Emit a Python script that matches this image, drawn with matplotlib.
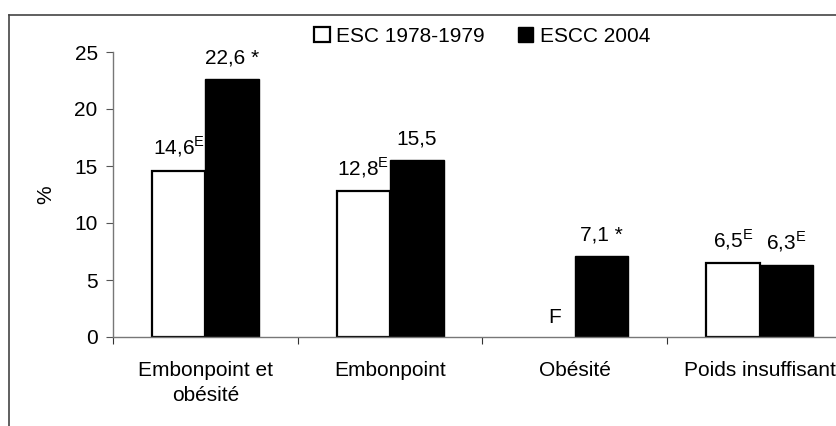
import matplotlib
matplotlib.use("Agg")
import matplotlib.pyplot as plt
from matplotlib.lines import Line2D
from matplotlib.patches import Patch

plt.rcParams['font.family'] = ['Liberation Sans', 'DejaVu Sans']
plt.rcParams['mathtext.fontset'] = 'custom'
plt.rcParams['mathtext.rm'] = 'Liberation Sans'

categories = ["Embonpoint et\nobésité", "Embonpoint", "Obésité", "Poids insuffisant"]
series_names = ["ESC 1978-1979", "ESCC 2004"]
esc_1978 = [14.6, 12.8, 0.0, 6.5]
escc_2004 = [22.6, 15.5, 7.1, 6.3]
esc_labels = ["14,6$^{\\mathrm{E}}$", "12,8$^{\\mathrm{E}}$", "F", "6,5$^{\\mathrm{E}}$"]
escc_labels = ["22,6 *", "15,5", "7,1 *", "6,3$^{\\mathrm{E}}$"]
yticks = [0, 5, 10, 15, 20, 25]

FS = 15
W, H = 837, 426
fig = plt.figure(figsize=(W / 100, H / 100), dpi=100)
ax = fig.add_axes([113 / W, (H - 337) / H, (852 - 113) / W, (337 - 52) / H])

bw = 0.29
n = len(categories)
centers = [i + 0.5 for i in range(n)]
ax.bar([c - bw / 2 for c in centers], esc_1978, width=bw, color='white',
       edgecolor=['black' if v > 0 else 'none' for v in esc_1978],
       linewidth=1.6, label=series_names[0], zorder=2)
ax.bar([c + bw / 2 for c in centers], escc_2004, width=bw, color='black',
       edgecolor='black', linewidth=1.0, label=series_names[1], zorder=2)

for c, v, lab in zip(centers, esc_1978, esc_labels):
    if lab == "F":
        ax.text(c - bw / 2 + 0.035, 0.9, lab, ha='center', va='bottom', fontsize=FS)
    else:
        ax.text(c - bw / 2, v + 1.0, lab, ha='center', va='bottom', fontsize=FS)
for c, v, lab in zip(centers, escc_2004, escc_labels):
    ax.text(c + bw / 2, v + 1.0, lab, ha='center', va='bottom', fontsize=FS)

ax.set_xlim(0, n)
ax.set_ylim(0, 25)
ax.set_yticks(yticks)
ax.set_yticklabels([str(t) for t in yticks], fontsize=FS)
ax.set_xticks(range(n + 1))
ax.set_xticklabels([])
ax.set_xticks(centers, minor=True)
ax.set_xticklabels(categories, minor=True, fontsize=FS, linespacing=1.45)
ax.tick_params(axis='x', which='minor', length=0, pad=17)
ax.tick_params(axis='x', which='major', length=5, direction='out', color='#333333')
ax.tick_params(axis='y', length=5, direction='out', color='#555555', pad=6)
for s in ['top', 'right']:
    ax.spines[s].set_visible(False)
for s in ['left', 'bottom']:
    ax.spines[s].set_color('#777777')
    ax.spines[s].set_linewidth(1.0)
ax.set_ylabel('%', fontsize=FS, labelpad=14)

handles = [Patch(facecolor='white', edgecolor='black', linewidth=1.6),
           Patch(facecolor='black', edgecolor='black')]
fig.legend(handles, series_names, loc='center', bbox_to_anchor=(482 / W, 1 - 36 / H),
           ncol=2, frameon=False, fontsize=FS, handlelength=0.75, handleheight=0.75,
           handletextpad=0.3, columnspacing=1.6)

# figure border (partially visible)
fig.add_artist(Line2D([9 / W, 1.0], [1 - 15 / H, 1 - 15 / H], color='#444444', linewidth=1.2))
fig.add_artist(Line2D([9 / W, 9 / W], [0, 1 - 15 / H], color='#444444', linewidth=1.2))

fig.savefig('out.png', dpi=100)
